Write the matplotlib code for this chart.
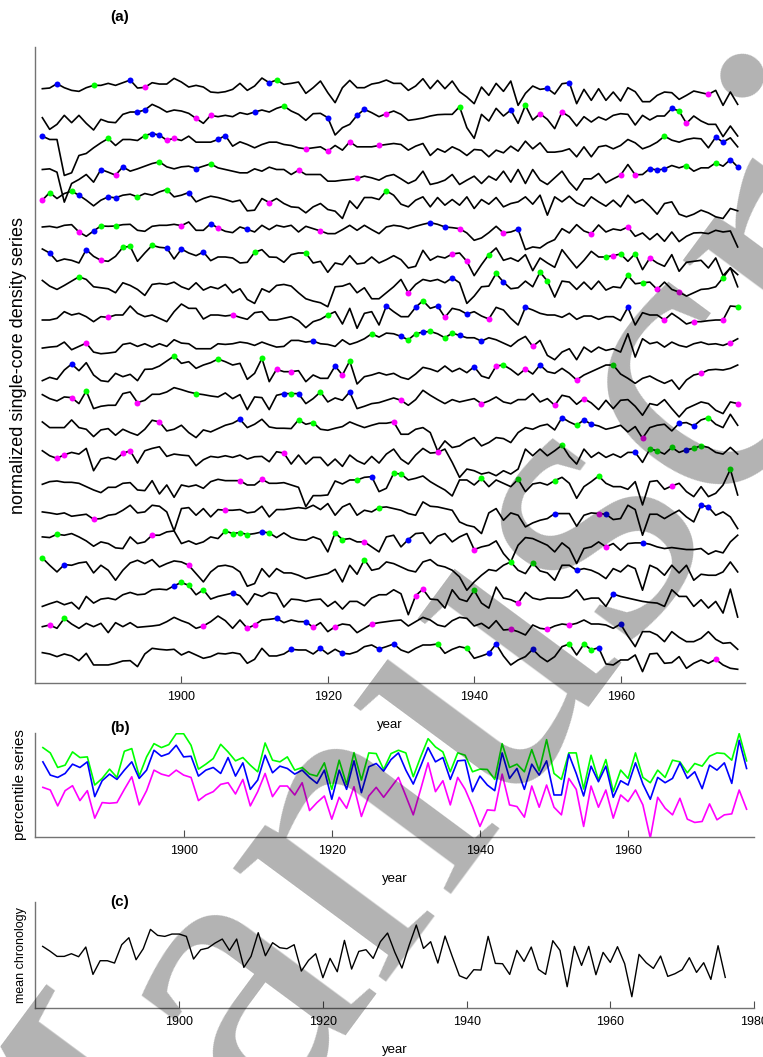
import numpy as np
import matplotlib
matplotlib.use("Agg")
import matplotlib.pyplot as plt

plt.rcParams['font.family'] = ['Liberation Sans', 'DejaVu Sans']

years = np.arange(1881, 1977)

# (a) single-core x-ray grey-level readings, 1881-1976 (high grey = low density)
core01 = [88,86,73,85,93,96,85,78,78,72, 78,70,62,86,84,70,74,74,57,68, 83,78,83,98,100,97,90,72,93,80,
          56,70,62,75,72,68,102,85,65,100, 130,85,63,85,85,74,70,62,72,72, 93,80,58,88,63,88,65,97,113,133,
          83,108,72,96,65,138,102,80,90,87, 104,73,70,133,90,123,88,123,98,125, 85,97,127,127,108,98,100,120,108,95,
          100,105,93,138,98,135]
core02 = [175,210,195,168,190,168,192,212,180,188, 190,165,158,158,152,135,145,158,152,155, 162,177,192,168,172,168,172,160,165,158,
          152,158,147,140,155,165,183,163,162,175, 227,205,195,168,150,160,172,163,155,165, 183,180,176,170,166,165,165,142,205,237,
          165,185,147,170,152,192,138,182,163,180, 208,158,172,200,172,188,173,182,168,163, 165,197,168,182,170,170,147,155,192,170,
          185,195,195,232,200,230]
core03 = [230,240,240,348,340,288,282,265,250,237, 258,240,240,243,228,222,227,242,237,243, 230,248,248,248,240,228,260,247,255,265,
          255,248,248,255,258,265,268,265,262,275, 258,272,247,262,262,262,258,255,252,255, 272,260,252,288,268,278,262,272,288,270,
          272,292,272,280,260,275,245,268,250,278, 278,275,268,292,262,292,262,258,268,258, 240,250,268,260,248,230,242,248,240,236,
          238,265,233,248,235,262]
core04 = [330,328,338,428,372,360,345,368,330,338, 347,322,335,328,320,312,307,322,328,322, 320,327,320,313,325,330,335,340,340,328,
          335,323,330,330,345,332,345,345,345,365, 365,362,360,357,350,355,362,350,345,358, 372,362,335,375,370,362,345,375,362,350,
          372,350,362,335,368,330,372,330,362,375, 355,335,368,392,358,358,342,370,358,347, 315,346,345,327,332,328,318,325,318,335,
          325,325,310,320,300,322]
core05 = [420,397,415,400,393,405,420,437,420,410, 413,405,402,410,400,405,395,388,410,405, 397,425,415,408,412,418,425,420,452,450,
          415,427,415,430,440,442,458,440,430,448, 453,475,422,445,412,412,418,392,405,432, 440,420,410,440,412,435,418,435,410,445,
          418,432,412,440,430,425,410,432,405,465, 410,425,408,428,438,410,425,438,420,440, 405,428,418,438,462,430,425,462,470,462,
          450,458,470,475,445,452]
core06 = [80,78,82,75,73,95,108,92,77,78, 77,73,72,90,93,78,75,75,72,76, 65,90,90,70,83,93,97,80,87,95,
          75,88,75,80,75,95,78,85,92,100, 100,88,75,90,75,88,100,80,75,78, 85,78,72,67,72,80,82,85,98,120,
          113,97,78,98,95,87,148,140,143,128, 118,85,98,73,92,100,74,95,86,90, 80,108,98,118,100,123,95,124,108,98,
          97,100,90,95,92,140]
core07 = [148,160,185,178,182,190,150,170,182,185, 170,143,140,185,160,137,143,145,178,148, 160,168,157,183,172,172,175,190,188,158,
          150,172,173,188,165,160,160,190,185,218, 190,195,168,193,190,172,190,180,168,180, 205,200,152,182,170,175,163,160,185,228,
          195,165,145,182,175,185,165,213,175,190, 203,150,178,205,182,155,172,172,168,163, 185,162,210,175,190,200,165,215,188,185,
          182,205,175,228,205,225]
core08 = [243,260,270,258,245,232,240,262,265,268, 280,250,258,270,288,255,252,255,248,262, 270,250,272,262,268,255,280,268,300,312,
          268,278,258,255,260,280,298,305,310,322, 262,260,252,280,265,298,298,280,262,240, 280,255,240,245,240,250,235,250,312,290,
          262,260,222,248,268,265,245,262,218,245, 293,245,248,270,248,270,245,272,262,265, 228,253,250,248,270,248,270,278,290,280,
          270,268,262,235,205,262]
core09 = [360,360,355,335,345,340,350,365,350,352, 345,345,318,340,350,345,355,365,335,312, 325,325,357,345,345,348,345,352,358,338,
          335,360,360,355,350,362,383,365,358,345, 335,372,325,385,340,335,375,318,335,350, 350,322,302,325,318,352,325,330,342,335,
          348,357,322,330,355,375,322,330,340,345, 345,352,340,358,348,348,358,350,350,362, 322,375,338,345,345,360,340,355,372,365,
          365,362,360,360,318,320]
core10 = [443,440,438,425,448,438,428,455,460,458, 455,432,428,438,430,440,430,438,418,428, 430,445,445,445,430,432,430,425,428,435,
          425,433,440,438,420,420,425,422,430,432, 438,418,432,425,415,400,410,398,400,408, 418,400,395,393,400,412,398,405,412,412,
          422,412,418,428,438,420,408,438,420,465, 478,455,445,478,440,455,440,450,445,455, 400,470,415,430,425,440,425,435,440,430,
          425,432,430,435,427,415]
core11 = [92,82,88,60,42,62,38,75,92,95, 70,80,73,92,58,57,48,33,18,40, 35,55,45,38,27,35,45,40,88,70,
          25,95,58,65,65,62,95,75,85,85, 48,75,33,102,80,75,68,75,70,82, 88,72,52,57,65,48,65,55,68,50,
          78,85,48,45,58,75,57,72,45,65, 70,55,70,90,75,65,55,45,45,72, 85,100,85,78,90,100,90,118,90,75,
          70,60,58,60,55,45]
core12 = [133,145,152,140,142,160,122,175,168,165, 165,130,125,157,150,132,132,125,112,118, 125,130,133,137,140,128,145,133,178,140,
          142,178,135,130,130,130,160,145,125,155, 143,150,125,175,168,160,157,150,143,150, 165,148,120,135,148,160,148,155,150,145,
          160,152,140,155,160,148,148,130,155,145, 165,135,140,162,145,158,178,150,175,150, 148,168,195,160,165,148,175,200,175,165,
          155,160,180,190,155,160]
core13 = [218,235,235,235,212,235,240,262,242,238, 258,240,250,258,240,213,218,245,240,228, 250,265,242,248,238,228,222,210,235,225,
          210,233,237,237,238,212,225,220,240,243, 237,232,218,227,235,228,222,222,218,255, 255,240,235,250,305,275,295,290,275,265,
          290,280,265,268,280,250,235,240,230,225, 242,205,218,228,212,225,230,240,235,228, 248,232,267,235,228,225,245,222,220,230,
          212,205,225,235,195,228]
core14 = [305,320,328,317,310,315,298,365,330,325, 332,313,305,342,305,298,293,322,315,318, 320,350,332,322,325,320,325,318,330,323,
          322,338,308,312,345,318,345,325,325,350, 330,352,318,335,345,322,342,315,300,330, 345,318,298,312,310,300,340,385,360,365,
          375,370,380,365,375,360,300,320,300,320, 305,288,322,345,300,325,310,325,315,325, 310,310,340,300,305,315,295,310,302,298,
          290,295,310,315,295,315]
core15 = [403,395,393,397,397,400,410,420,428,412, 412,400,398,420,422,392,432,405,442,405, 410,405,415,395,388,392,392,392,405,405,
          388,400,400,398,405,412,470,437,437,435, 393,402,390,390,382,380,425,415,370,372, 390,385,378,395,408,420,438,390,390,405,
          385,410,390,400,410,388,425,402,398,405, 392,382,400,445,410,395,378,400,410,410, 418,395,465,395,392,418,408,400,425,440,
          410,440,430,405,358,435]
core16 = [35,38,42,38,48,45,42,57,55,45, 42,30,15,38,35,15,18,35,92,25, 22,45,25,50,28,30,30,28,38,35,
          18,50,28,28,25,22,25,15,28,10, 45,20,10,45,30,35,22,20,25,30, 40,45,5,18,20,25,30,65,75,80,
          100,38,25,60,38,45,80,68,60,55, 40,40,40,78,45,38,40,42,58,55, 15,28,105,42,42,55,42,30,50,65,
          15,20,45,35,50,85]
core17 = [110,112,102,105,100,110,122,138,125,130, 143,145,110,130,125,105,105,95,92,130, 122,132,125,110,115,92,100,97,103,100,
          95,98,112,98,112,118,120,110,118,155, 98,118,115,125,125,140,155,110,105,140, 118,100,98,130,108,100,125,110,100,148,
          140,135,122,160,185,135,112,115,125,135, 155,128,145,190,145,140,125,140,130,150, 130,128,128,132,140,145,142,145,148,148,
          145,162,152,158,125,105]
core18 = [173,195,215,193,195,188,185,218,195,210, 240,210,188,180,190,178,200,190,182,185, 195,220,245,215,198,195,200,215,258,250,
          205,230,205,218,218,225,235,230,225,220, 207,245,195,222,178,210,205,185,190,200, 210,215,185,178,195,200,210,230,270,245,
          225,208,212,195,185,210,220,188,212,218, 240,195,195,210,205,210,220,235,205,215, 195,205,270,195,205,225,195,218,195,240,
          222,225,225,215,185,215]
core19 = [320,312,305,315,308,328,290,310,298,295, 300,285,278,285,283,270,268,270,258,248, 257,285,270,298,290,285,280,288,315,282,
          290,278,282,322,298,300,305,300,298,320, 305,328,305,305,318,295,285,285,270,282, 345,288,268,298,300,325,270,298,305,272,
          310,325,262,295,300,310,278,295,300,295, 295,295,290,270,300,295,295,320,283,290, 295,300,305,308,310,320,270,290,290,320,
          300,325,305,340,268,352]
core20 = [380,375,385,355,372,385,370,380,370,398, 368,380,368,382,380,378,375,365,352,362, 370,385,378,365,348,362,385,360,385,375,
          360,358,355,368,360,365,365,382,368,395, 380,372,375,398,385,372,368,365,362,360, 378,365,352,360,375,380,362,352,355,378,
          370,385,362,390,388,395,405,375,385,388, 378,372,375,370,360,372,372,375,385,372, 408,440,395,395,405,425,395,412,425,425,
          415,395,418,430,428,448]
core21 = [458,462,470,462,468,482,460,495,495,495, 490,483,482,500,462,445,448,450,448,465, 455,465,475,470,460,462,458,462,490,478,
          445,468,468,462,448,450,450,462,445,462, 448,460,462,455,440,435,447,440,432,450, 458,445,435,435,432,460,448,440,445,475,
          468,460,432,468,495,480,470,448,470,485, 470,440,432,465,432,450,443,492,495,480, 480,465,515,462,460,490,488,470,505,490,
          480,490,478,495,505,508]
cores = [core01, core02, core03, core04, core05, core06, core07, core08, core09, core10, core11,
         core12, core13, core14, core15, core16, core17, core18, core19, core20, core21]

# marked years on each core
blue_marks = [[1883,1893,1912,1950,1953], [1894,1895,1910,1920,1924,1925,1945,1967],
              [1881,1896,1897,1905,1906,1973,1974], [1889,1892,1902,1964,1965,1966,1975,1976],
              [1886,1890,1891,1901], [1888,1904,1909,1934,1936,1946], [1882,1887,1898,1900,1903],
              [1937,1944], [1928,1932,1935,1939,1947,1961], [1918,1930,1933,1938,1941],
              [1885,1921,1940,1949], [1914,1916,1923], [1908,1952,1955,1956,1968,1970], [1962,1969],
              [1926], [1951,1958,1971,1972], [1911,1931,1963], [1884,1954], [1899,1907,1959],
              [1913,1917,1960], [1915,1919,1922,1927,1929,1942,1943,1948,1957]]
green_marks = [[1888,1913], [1914,1938,1947,1968], [1890,1895,1966], [1897,1904,1969,1973],
               [1882,1885,1894,1898,1928], [1889,1891], [1892,1893,1896,1910,1917,1942,1958,1960,1962],
               [1886,1943,1949,1950,1961,1963,1974], [1920,1933,1976], [1926,1931,1932,1934,1936,1937],
               [1899,1905,1911,1923,1944,1959], [1887,1902,1915,1919], [1916,1918,1954,1972],
               [1952,1964,1965,1967,1970,1971], [1924,1929,1930,1941,1946,1951,1957,1975], [1927],
               [1883,1906,1907,1908,1909,1912,1921,1922], [1881,1925,1945,1948], [1900,1901,1903,1940],
               [1884], [1935,1939,1953,1955,1956]]
magenta_marks = [[1895,1972], [1902,1904,1928,1949,1952,1969], [1898,1899,1917,1920,1923,1927],
                 [1891,1916,1924,1960,1962], [1881,1912], [1886,1900,1905,1919,1938,1944,1956,1961],
                 [1889,1937,1939,1959,1964], [1931,1965,1968], [1890,1907,1936,1942,1966,1970,1974],
                 [1887,1948,1975], [1913,1915,1922,1943,1947,1954,1971], [1885,1894,1930,1941,1951,1955,1976],
                 [1897,1929,1963], [1883,1884,1892,1893,1914,1935], [1908,1911,1967], [1888,1906,1957],
                 [1896,1925,1940,1958], [1901], [1932,1933,1946], [1882,1903,1909,1910,1918,1921,1926,1945,1950,1953],
                 [1973]]

# (b) percentile series
green_pct = [270,254,210,217,257,240,242,157,177,205, 180,259,267,184,242,282,270,279,312,312,
             277,205,220,237,280,257,230,240,217,197, 284,232,227,242,202,210,190,184,224,144,
             232,159,255,172,254,252,204,252,262,254, 182,242,297,272,257,197,254,247,197,205,
             204,174,282,210,220,197,264,200,294,192, 174,254,254,145,247,172,234,137,202,177,
             254,180,164,202,180,232,227,194,222,214, 244,254,252,232,312,230]
blue_pct = [227,187,180,192,220,210,227,122,170,190, 174,202,227,177,202,262,244,252,277,242,
            244,184,202,210,192,240,184,224,144,172, 247,194,214,207,190,202,180,162,202,114,
            202,144,230,134,212,222,199,234,254,202, 160,214,270,227,240,174,230,232,137,184,
            157,140,254,177,207,144,220,187,230,127, 127,250,192,124,214,167,214,120,170,157,
            224,160,114,180,164,177,224,177,197,146, 217,202,224,162,292,207]
magenta_pct = [150,142,94,140,155,110,140,57,104,102, 104,144,182,97,140,202,190,184,202,187,
               180,110,127,137,159,164,130,174,94,137, 192,122,154,154,127,164,80,104,124,54,
               120,87,152,62,124,150,120,150,180,124, 67,144,224,137,170,97,180,144,92,32,
               82,80,190,97,92,60,154,90,157,90, 67,177,144,32,154,90,142,57,127,107,
               142,97,-3,120,87,67,117,54,44,47, 100,52,67,70,142,84]

# (c) mean chronology
chron = [1.04,0.76,0.44,0.44,0.60,0.42,1.00,-0.64,0.18,0.18, 0.04,1.14,1.56,0.24,0.90,2.06,1.70,1.64,1.78,1.78,
         1.64,0.28,0.84,0.94,1.24,1.48,0.80,1.48,-0.22,0.44, 1.86,0.48,1.26,0.96,0.90,1.14,-0.44,0.20,0.60,-0.84,
         0.32,-0.48,1.40,-0.32,0.74,0.84,0.32,1.32,1.84,0.70, -0.26,1.10,2.32,0.92,1.32,0.04,1.66,0.44,-0.72,-0.90,
         -0.36,-0.38,1.64,0.02,0.00,-0.64,0.80,0.14,1.00,-0.34, -0.64,1.38,0.80,-1.38,1.04,-0.10,1.04,-0.66,0.68,0.08,
         1.02,0.00,-1.98,0.56,0.06,-0.28,0.46,-0.76,-0.60,-0.36, 0.36,-0.52,0.06,-0.94,1.08,-0.82]

BLUE, GREEN, MAGENTA = '#0000ff', '#00ff00', '#ff00ff'


def style(ax, ticks):
    for s in ('top', 'right'):
        ax.spines[s].set_visible(False)
    for s in ('left', 'bottom'):
        ax.spines[s].set_color('0.45')
        ax.spines[s].set_linewidth(1.0)
    ax.set_yticks([])
    ax.set_xticks(ticks)
    ax.tick_params(axis='x', direction='in', length=5, color='0.3', labelsize=9, pad=6)
    ax.set_xlabel('year', fontsize=9.5, labelpad=11)


fig = plt.figure(figsize=(7.63, 10.57), dpi=100)

# (a) stacked single-core series
ax_a = fig.add_axes([0.0459, 0.3538, 0.9305, 0.6017])
step = 5.0
for i, raw in enumerate(cores):
    raw = np.asarray(raw, float)
    z = (raw.mean() - raw) / 17.0 - step * i
    ax_a.plot(years, z, color='k', lw=1.2, zorder=2)
    for marks, col in ((blue_marks[i], BLUE), (green_marks[i], GREEN), (magenta_marks[i], MAGENTA)):
        idx = np.searchsorted(years, marks)
        ax_a.plot(years[idx], z[idx], 'o', ms=4.3, mfc=col, mec='none', zorder=3)
ax_a.set_xlim(1880, 1977)
ax_a.set_ylim(-104.95, 7.42)
style(ax_a, [1900, 1920, 1940, 1960])
ax_a.set_ylabel('normalized single-core density series', fontsize=13)
ax_a.yaxis.set_label_coords(-0.011, 0.5)

# (b) percentile series
ax_b = fig.add_axes([0.0465, 0.2081, 0.9417, 0.0984])
ax_b.plot(years, green_pct, color=GREEN, lw=1.2)
ax_b.plot(years, blue_pct, color=BLUE, lw=1.2)
ax_b.plot(years, magenta_pct, color=MAGENTA, lw=1.2)
ax_b.set_xlim(1880, 1977)
ax_b.set_ylim(0, 314)
style(ax_b, [1900, 1920, 1940, 1960])
ax_b.set_ylabel('percentile series', fontsize=11)
ax_b.yaxis.set_label_coords(-0.012, 0.5)

# (c) mean chronology
ax_c = fig.add_axes([0.0465, 0.0463, 0.9417, 0.1003])
ax_c.plot(years, chron, color='k', lw=1.0)
ax_c.set_xlim(1880, 1980)
ax_c.set_ylim(-2.66, 3.70)
style(ax_c, [1900, 1920, 1940, 1960, 1980])
ax_c.set_ylabel('mean chronology', fontsize=9)
ax_c.yaxis.set_label_coords(-0.012, 0.5)

for lab, y in (('(a)', 0.984), ('(b)', 0.311), ('(c)', 0.147)):
    fig.text(0.157, y, lab, fontsize=11, fontweight='bold', ha='center', va='center')

# diagonal watermark
fig.text(0.0629, -0.3446, 'Manuscript', rotation=53.5, rotation_mode='anchor', ha='left', va='baseline',
         fontsize=297.5, family=['Liberation Serif', 'DejaVu Serif'], color='k', alpha=0.3, zorder=10)

fig.savefig('out.png', dpi=100)
